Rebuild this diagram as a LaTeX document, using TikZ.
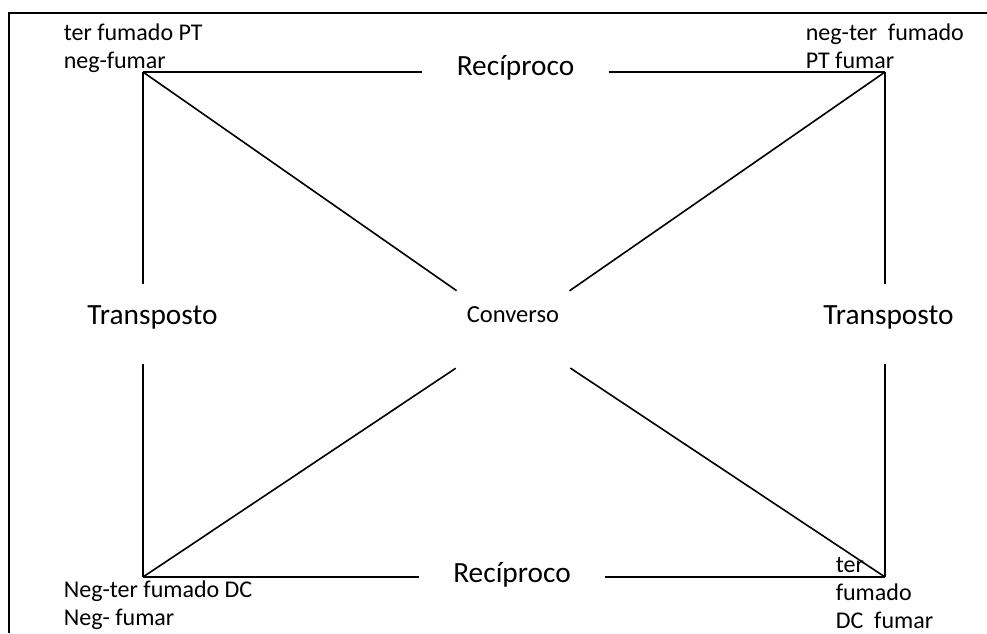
\documentclass[tikz,border=0pt]{standalone}
\usepackage{fontspec}
\setmainfont{Carlito}
\begin{document}
\begin{tikzpicture}[x=0.75pt,y=-0.75pt,line width=1.2pt,
		big/.style={font=\fontsize{22}{26}\selectfont,inner sep=0pt},
		corner/.style={font=\fontsize{18}{21}\selectfont,inner sep=0pt,align=left,anchor=base west}]
		\useasboundingbox (0,0) rectangle (987,633);
		\draw (9,633) -- (9,13) -- (987,13);
		\coordinate (tl) at (143,72);
		\coordinate (tr) at (885,72);
		\coordinate (bl) at (143,577);
		\coordinate (br) at (885,577);
		\node[big,minimum width=138.75pt,text height=8pt,text depth=3.5pt] (rtop) at (515.5,72) {Recíproco};
		\node[big,minimum width=138pt,text height=10pt,text depth=2.5pt] (rbot) at (512,577) {Recíproco};
		\node[big,minimum height=58.5pt,text height=0pt,text depth=0pt] (tleft) at (152.5,324) {Transposto};
		\node[big,minimum height=58.5pt,text height=0pt,text depth=0pt] (tright) at (888.5,324) {Transposto};
		\node[circle,inner sep=0pt,minimum size=102pt,label={[yshift=11.25pt,font=\fontsize{18.4}{21}\selectfont]center:Converso}] (conv) at (513,330) {};
		\draw (tl) -- (rtop) -- (tr);
		\draw (bl) -- (rbot) -- (br);
		\draw (tl) -- (tl |- tleft.north);
		\draw (tl |- tleft.south) -- (bl);
		\draw (tr) -- (tr |- tright.north);
		\draw (tr |- tright.south) -- (br);
		\draw (tl) -- (conv) -- (br);
		\draw (tr) -- (conv) -- (bl);
		\node[corner] (ptl) at (63,68) {ter fumado PT\\neg-fumar};
		\node[corner] (ptr) at (805,68) {neg-ter\ \ fumado\\PT fumar};
		\node[corner] (pbl) at (63,625) {Neg-ter fumado DC\\Neg- fumar};
		\node[corner] (pbr) at (835,628) {ter\\fumado\\DC\ \ fumar};
\end{tikzpicture}
\end{document}
